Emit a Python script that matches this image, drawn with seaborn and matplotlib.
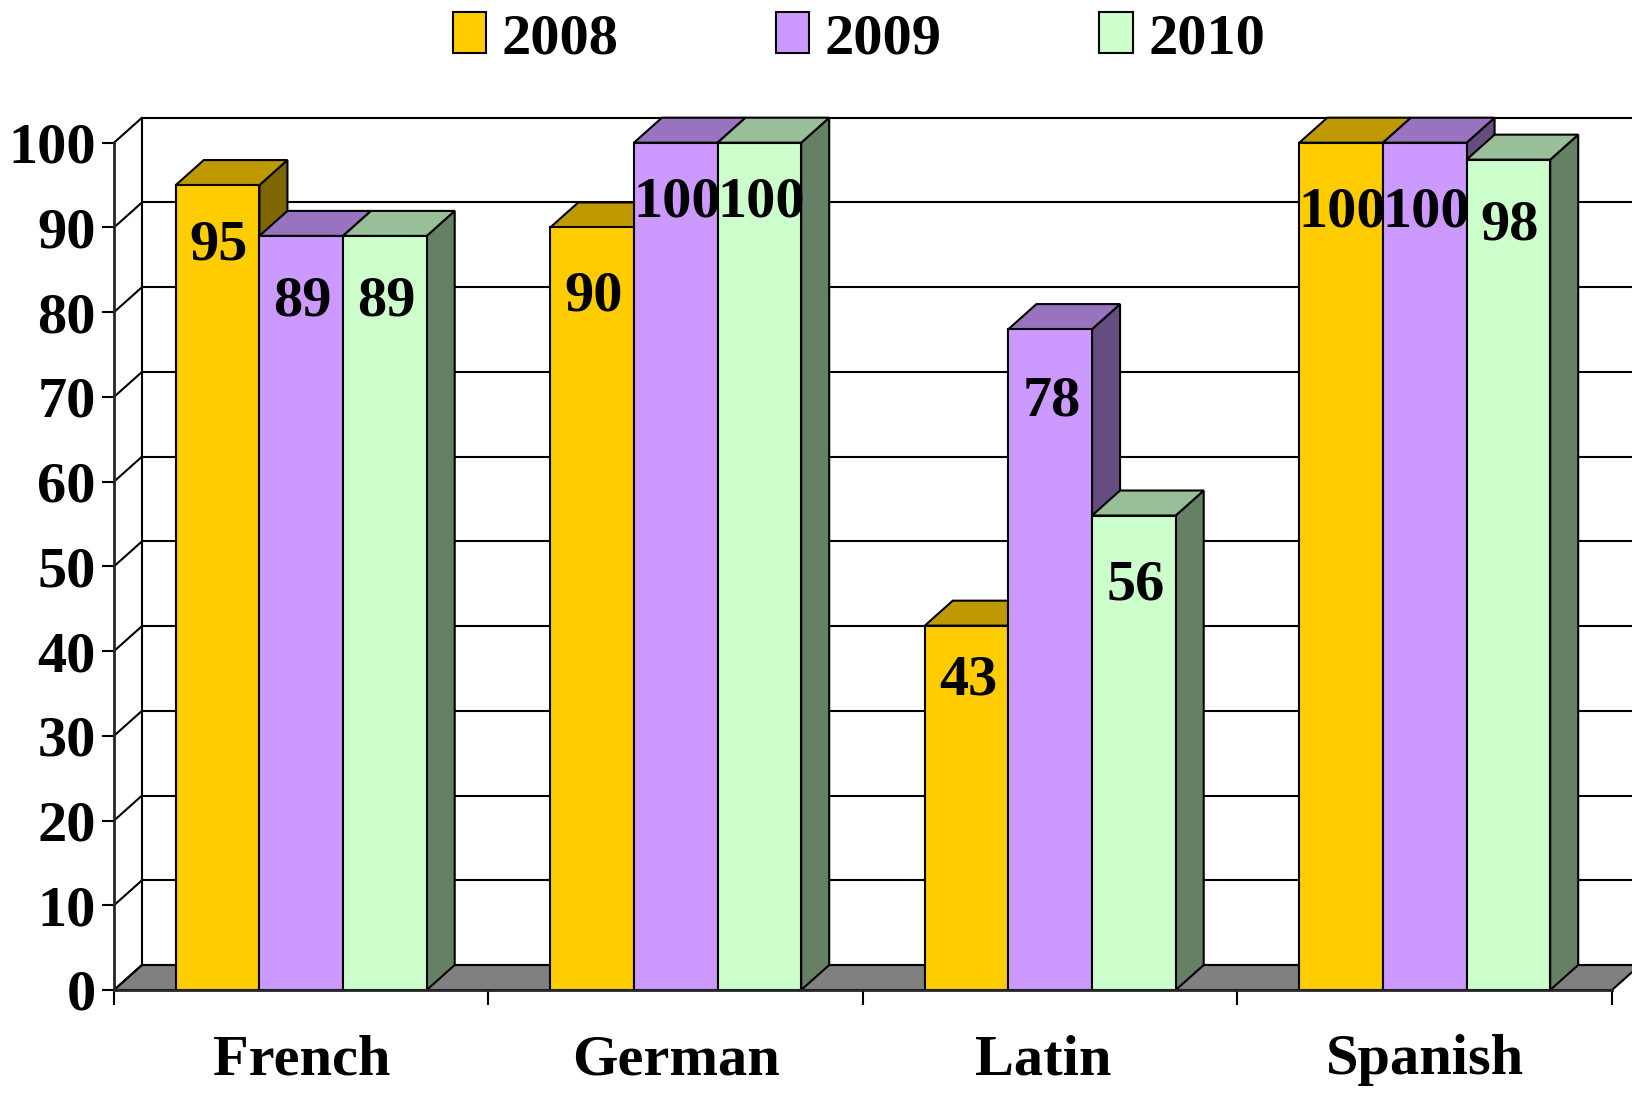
import pandas as pd
import numpy as np
import matplotlib
matplotlib.use('Agg')
import matplotlib.pyplot as plt
from matplotlib.patches import Polygon
from matplotlib.colors import to_rgb
from matplotlib.transforms import ScaledTranslation
import seaborn as sns

subjects = ['French', 'German', 'Latin', 'Spanish']
years = ['2008', '2009', '2010']
scores_2008 = [95, 90, 43, 100]
scores_2009 = [89, 100, 78, 100]
scores_2010 = [89, 100, 56, 98]
bar_colors = ['#FFCC00', '#CC99FF', '#CCFFCC']
y_ticks = list(range(0, 101, 10))

# how far below the bar top each value sits, in pixels (year by year)
label_drop = [[60, 69, 55, 70], [66, 60, 72, 70], [66, 60, 70, 66]]

df = pd.DataFrame({
    'subject': subjects * 3,
    'year': np.repeat(years, 4),
    'score': scores_2008 + scores_2009 + scores_2010,
})

sns.set_style('white')
plt.rcParams['font.family'] = ['Liberation Serif', 'DejaVu Serif']
plt.rcParams['font.weight'] = 'bold'
plt.rcParams['text.color'] = 'black'
plt.rcParams['xtick.labelcolor'] = 'black'
plt.rcParams['ytick.labelcolor'] = 'black'

W, H = 1633, 1093
fig = plt.figure(figsize=(W / 100, H / 100), dpi=100)
ax = fig.add_axes([114 / W, (H - 990) / H, 1498 / W, 847.3 / H])

sns.barplot(data=df, x='subject', y='score', hue='year', palette=bar_colors,
            width=0.67, gap=0, saturation=1, edgecolor='black', linewidth=1.5,
            dodge=True, errorbar=None, ax=ax)
ax.set_xlim(-0.5, 3.5)
ax.set_ylim(0, 100)

# 3d depth in data units
dx = 28 / (1498 / 4)
dy = 25 / 8.473

# floor and back wall
ax.add_patch(Polygon([(-0.5, 0), (3.5, 0), (3.5 + dx, dy), (-0.5 + dx, dy)],
                     facecolor='#808080', edgecolor='black', lw=1.5, zorder=1, clip_on=False))
for v in y_ticks:
    ax.plot([-0.5 + dx, 3.5 + dx], [v + dy, v + dy], color='black', lw=1.5, zorder=2, clip_on=False)
    ax.plot([-0.5, -0.5 + dx], [v, v + dy], color='black', lw=1.5, zorder=2, clip_on=False)
ax.plot([-0.5 + dx, -0.5 + dx], [dy, 100 + dy], color='black', lw=1.5, zorder=2, clip_on=False)

# side and top faces, left to right so nearer bars hide the ones before
bars = []
for container, color, drops in zip(ax.containers, bar_colors, label_drop):
    for bar, drop in zip(container, drops):
        bars.append((bar, color, drop))
bars.sort(key=lambda b: b[0].get_x())

z = 10
for bar, color, drop in bars:
    x0 = bar.get_x()
    x1 = x0 + bar.get_width()
    top = bar.get_height()
    rgb = np.array(to_rgb(color))
    ax.add_patch(Polygon([(x1, 0), (x1 + dx, dy), (x1 + dx, top + dy), (x1, top)],
                         facecolor=rgb * 0.5, edgecolor='black', lw=1.5, zorder=z, clip_on=False))
    ax.add_patch(Polygon([(x0, top), (x0 + dx, top + dy), (x1 + dx, top + dy), (x1, top)],
                         facecolor=rgb * 0.75, edgecolor='black', lw=1.5, zorder=z + 1, clip_on=False))
    bar.set_zorder(z + 2)
    bar.set_clip_on(False)
    ax.annotate(str(int(top)), xy=(x0 + bar.get_width() / 2, top),
                xytext=(1, -drop * 0.72), textcoords='offset points',
                ha='center', va='center', fontsize=42, fontweight='bold',
                color='black', zorder=100)
    z += 3

sns.despine(ax=ax)
for s in ['left', 'bottom']:
    ax.spines[s].set_linewidth(2)
    ax.spines[s].set_zorder(90)

ax.set_xlabel('')
ax.set_ylabel('')
ax.set_yticks(y_ticks)
ax.set_yticklabels([str(v) for v in y_ticks], fontsize=42, fontweight='bold')
ax.tick_params(axis='y', left=True, length=9, width=1.5, pad=4, color='black')
ax.set_xticks(range(4))
ax.set_xticklabels(subjects, fontsize=42, fontweight='bold')
ax.set_xticks(np.arange(-0.5, 4), minor=True)
ax.tick_params(axis='x', which='major', bottom=False, length=0, pad=32)
ax.tick_params(axis='x', which='minor', bottom=True, length=11, width=1.5, color='black')

# Latin sits a little left of its slot
latin = ax.get_xticklabels()[2]
latin.set_transform(latin.get_transform() + ScaledTranslation(-7 / 100, 0, fig.dpi_scale_trans))

handles, labels = ax.get_legend_handles_labels()
ax.legend(handles, labels, ncol=3, frameon=False, fontsize=42,
          loc='upper left', bbox_to_anchor=(412 / W, 1.026), bbox_transform=fig.transFigure,
          handlelength=0.567, handleheight=0.686, handletextpad=0.27,
          columnspacing=2.7, borderpad=0.2, labelspacing=0)

fig.savefig('out.png', dpi=100, facecolor='white')
